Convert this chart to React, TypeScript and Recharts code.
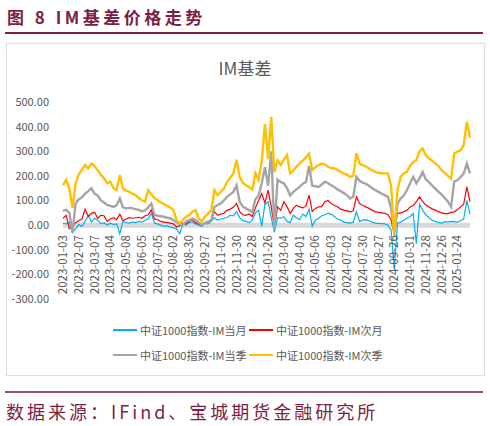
import React from 'react';
import { LineChart, Line, XAxis, YAxis, ReferenceLine } from 'recharts';

const tickLabels = [
  '2023-01-03', '2023-02-07', '2023-03-07', '2023-04-04', '2023-05-08', '2023-06-05',
  '2023-07-05', '2023-08-02', '2023-08-30', '2023-09-27', '2023-11-02', '2023-11-30',
  '2023-12-28', '2024-01-26', '2024-03-04', '2024-04-01', '2024-05-06', '2024-06-03',
  '2024-07-02', '2024-07-30', '2024-08-27', '2024-09-26', '2024-10-31', '2024-11-28',
  '2024-12-26', '2025-01-24',
];
const tickDays = [0, 20, 40, 60, 80, 100, 120, 140, 160, 180, 200, 220, 240, 260, 280, 300, 320, 340, 360, 380, 400, 420, 440, 460, 480, 500];

const dayIndex = [
  0, 4, 8, 12, 16, 20, 24, 28, 32, 36, 40, 44, 48, 52, 56, 60, 64, 68, 72, 76,
  80, 84, 88, 92, 96, 100, 104, 108, 112, 116, 120, 124, 128, 132, 136, 140, 144, 148, 152, 156,
  160, 164, 168, 172, 176, 180, 184, 188, 192, 196, 200, 204, 208, 212, 216, 220, 224, 228, 232, 236,
  240, 244, 248, 252, 256, 260, 264, 268, 272, 276, 280, 284, 288, 292, 296, 300, 304, 308, 312, 316,
  320, 324, 328, 332, 336, 340, 344, 348, 352, 356, 360, 364, 368, 372, 376, 380, 384, 388, 392, 396,
  400, 404, 408, 412, 416, 420, 424, 428, 432, 436, 440, 444, 448, 452, 456, 460, 464, 468, 472, 476,
  480, 484, 488, 492, 496, 500, 504, 508, 512, 516,
];

const seriesNames = ['中证1000指数-IM当月', '中证1000指数-IM次月', '中证1000指数-IM当季', '中证1000指数-IM次季'];

const imCurMonth = [
  8, 5, 12, -30, -15, 2, -5, 15, 40, 12,
  28, 20, 5, 10, 0, 8, 2, 5, -35, 15,
  10, 8, 12, 10, 15, 12, 20, 25, 48, 8,
  5, 0, -5, -3, -8, -10, -15, -35, 5, 0,
  10, 12, 5, 0, -5, 8, 5, 15, 30, 20,
  25, 28, 32, 40, 38, 55, 30, 18, 15, 10,
  20, 50, 60, -5, 85, 95, 30, -28, 30, 28,
  34, 15, 10, 40, 30, 22, 45, 35, 65, -5,
  20, 28, 38, 42, 48, 45, 35, 25, 20, 12,
  10, 8, 12, 54, 15, 20, 22, 18, 12, 8,
  7, 6, 5, 0, -20, -180, 8, 12, 20, 28,
  35, 47, -75, 85, 60, 42, 30, 20, 15, 10,
  8, 14, 12, 15, 14, 12, 18, 25, 100, 45,
];
const imNextMonth = [
  28, 40, -15, -5, 10, 18, 25, 65, 35, 48,
  52, 28, 40, 38, 15, 25, 30, 22, 45, 18,
  25, 30, 28, 30, 32, 28, 38, 42, 62, 25,
  22, 15, 12, 10, 8, 5, -8, -2, 8, 5,
  15, 22, 10, 5, -3, 10, 12, 20, 55, 40,
  45, 48, 60, 65, 72, 88, 55, 42, 40, 45,
  35, 70, 100, 128, 90, 142, 75, -8, 74, 60,
  95, 75, 47, 68, 81, 74, 70, 78, 122, 55,
  68, 74, 75, 95, 100, 88, 81, 75, 65, 61,
  58, 54, 58, 115, 88, 80, 74, 68, 60, 54,
  52, 50, 48, 42, 20, -35, 47, 50, 54, 60,
  74, 80, 95, 115, 95, 82, 74, 66, 61, 55,
  50, 47, 47, 52, 54, 62, 74, 85, 155, 95,
];
const imCurQuarter = [
  58, 62, 50, -30, 88, 105, 112, 128, 138, 149,
  128, 120, 100, 92, 82, 78, 74, 80, 108, 72,
  68, 70, 68, 65, 62, 56, 60, 72, 88, 42,
  38, 36, 34, 30, 28, 20, 12, 5, 0, 15,
  20, 27, 22, 10, 0, 8, 14, 20, 74, 82,
  88, 100, 115, 125, 135, 162, 95, 75, 68, 60,
  54, 105, 120, 170, 235, 160, 300, -20, 185, 175,
  170, 150, 120, 135, 145, 155, 168, 175, 240, 160,
  158, 155, 165, 176, 170, 162, 155, 145, 138, 130,
  122, 108, 115, 196, 180, 172, 168, 160, 150, 142,
  135, 128, 122, 115, 70, -30, 85, 108, 120, 142,
  170, 196, 170, 190, 215, 185, 175, 160, 148, 135,
  125, 110, 95, 74, 178, 182, 195, 210, 250, 210,
];
const imNextQuarter = [
  162, 183, 150, 69, 170, 205, 225, 244, 230, 250,
  240, 223, 205, 190, 170, 176, 150, 142, 203, 149,
  140, 135, 128, 122, 110, 101, 95, 142, 125, 110,
  101, 92, 86, 78, 72, 61, 20, 7, 22, 34,
  41, 55, 61, 27, 14, 35, 48, 58, 142, 122,
  135, 149, 175, 192, 210, 265, 196, 172, 162, 155,
  145, 210, 183, 262, 410, 268, 440, 215, 264, 244,
  265, 284, 210, 222, 237, 250, 262, 275, 291, 223,
  235, 244, 250, 246, 237, 232, 230, 225, 216, 210,
  205, 196, 200, 291, 250, 244, 238, 230, 222, 216,
  212, 210, 210, 210, 160, -47, 142, 196, 210, 216,
  240, 256, 264, 300, 311, 284, 271, 262, 250, 240,
  223, 212, 200, 188, 291, 298, 304, 325, 420, 355,
];
const yTicks = [-300, -200, -100, 0, 100, 200, 300, 400, 500];

const colors = ['#00B0F0', '#FF0000', '#A5A5A5', '#FFC000'];
const widths = [1.2, 1.2, 2.4, 2.4];
const keys = ['m1', 'm2', 'q1', 'q2'];

const rows = dayIndex.map((d, i) => ({
  day: d,
  m1: imCurMonth[i],
  m2: imNextMonth[i],
  q1: imCurQuarter[i],
  q2: imNextQuarter[i],
}));

const FONT = "'Noto Sans CJK SC', 'Noto Sans', sans-serif";
const W = 490;
const H = 426;
const M_TOP = 102;
const M_BOTTOM = 117;
const X_AXIS_H = 10;
const PLOT_H = H - M_TOP - M_BOTTOM - X_AXIS_H;
const Y_MIN = -300;
const Y_MAX = 500;
const ZERO_Y = M_TOP + (PLOT_H * Y_MAX) / (Y_MAX - Y_MIN);

const XTick = (props: any) => {
  const { x, payload } = props;
  const idx = tickDays.indexOf(payload.value);
  return (
    <text
      transform={`translate(${x + 4},${ZERO_Y + 10}) rotate(-90)`}
      textAnchor="end"
      fontSize={11.5}
      fill="#595959"
      fontFamily={FONT}
    >
      {tickLabels[idx]}
    </text>
  );
};

const maroon = '#7B1F45';

export default function App() {
  const legendPos = [
    { left: 113, top: 330 },
    { left: 249, top: 330 },
    { left: 113, top: 355 },
    { left: 249, top: 355 },
  ];
  return (
    <div style={{ position: 'absolute', left: 0, top: 0, width: W, height: H, background: '#fff', fontFamily: FONT, overflow: 'hidden' }}>
      <div style={{ position: 'absolute', left: 7, top: 5, fontSize: 17, fontWeight: 700, color: maroon, letterSpacing: 3.5, whiteSpace: 'pre', lineHeight: '24px' }}>
        图 8 IM基差价格走势
      </div>
      <div style={{ position: 'absolute', left: 5, top: 32, width: 478, height: 1.5, background: maroon }} />
      <div style={{ position: 'absolute', left: 6, top: 43, width: 477, height: 331, border: '1px solid #dedede', boxShadow: '0 0 1px #e8e8e8' }} />
      <div style={{ position: 'absolute', left: 0, top: 57, width: W, textAlign: 'center', fontSize: 17, color: '#595959', lineHeight: '22px' }}>
        IM基差
      </div>
      <div style={{ position: 'absolute', left: 0, top: 0 }}>
        <LineChart width={W} height={H} data={rows} margin={{ top: M_TOP, right: 20, bottom: M_BOTTOM, left: 8 }}>
          <ReferenceLine y={0} stroke="#D9D9D9" strokeWidth={5} ifOverflow="extendDomain" />
          <XAxis
            dataKey="day"
            type="number"
            domain={[0, 516]}
            ticks={tickDays}
            interval={0}
            height={X_AXIS_H}
            axisLine={false}
            tickLine={false}
            tick={<XTick />}
          />
          <YAxis
            domain={[Y_MIN, Y_MAX]}
            ticks={yTicks}
            width={55}
            axisLine={false}
            tickLine={false}
            tickSize={0}
            tickMargin={14}
            interval={0}
            tick={{ fontSize: 11, fill: '#595959', fontFamily: FONT }}
            tickFormatter={(v: number) => v.toFixed(2)}
          />
          {keys.map((k, i) => (
            <Line
              key={k}
              dataKey={k}
              name={seriesNames[i]}
              stroke={colors[i]}
              strokeWidth={widths[i]}
              dot={false}
              type="linear"
              isAnimationActive={false}
            />
          ))}
        </LineChart>
      </div>
      {seriesNames.map((n, i) => (
        <div key={n} style={{ position: 'absolute', left: legendPos[i].left, top: legendPos[i].top - 9, height: 18, display: 'flex', alignItems: 'center', fontSize: 11, color: '#595959', whiteSpace: 'nowrap' }}>
          <span style={{ display: 'inline-block', width: 24, height: i < 2 ? 1.5 : 2.2, background: colors[i], marginRight: 3 }} />
          <span>{n}</span>
        </div>
      ))}
      <div style={{ position: 'absolute', left: 5, top: 391, width: 478, height: 1.5, background: '#9B4A6B' }} />
      <div style={{ position: 'absolute', left: 6, top: 399, fontSize: 18, color: maroon, letterSpacing: 3, whiteSpace: 'nowrap', lineHeight: '24px' }}>
        数据来源：IFind、宝城期货金融研究所
      </div>
    </div>
  );
}
